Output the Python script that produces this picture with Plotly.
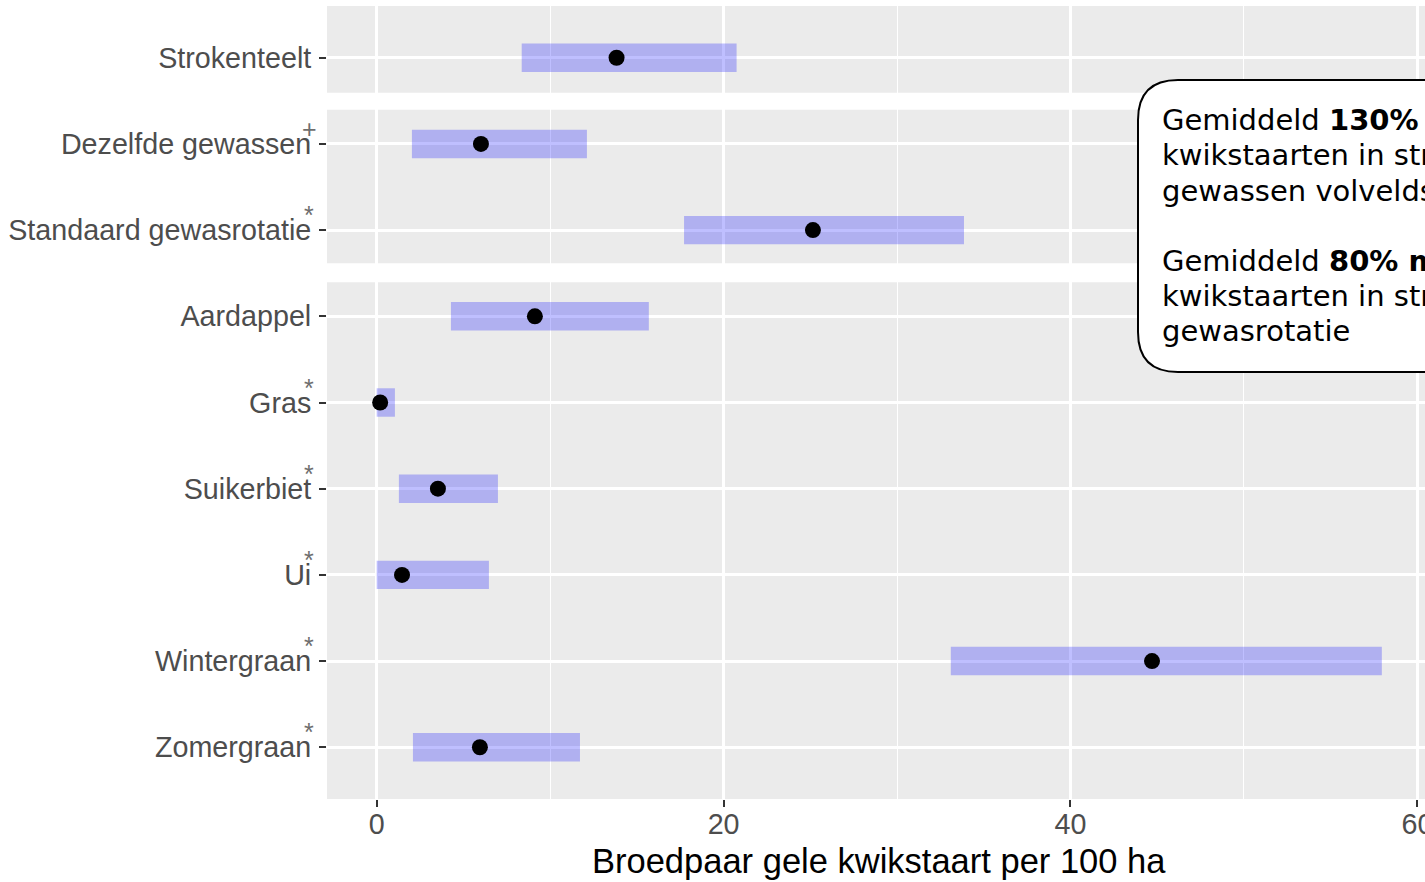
import plotly.graph_objects as go

# ---------------- data ----------------
categories = ["Strokenteelt", "Dezelfde gewassen", "Standaard gewasrotatie",
              "Aardappel", "Gras", "Suikerbiet", "Ui", "Wintergraan", "Zomergraan"]
mean_vals = [13.83, 6.01, 25.15, 9.12, 0.20, 3.53, 1.46, 44.70, 5.95]
lower_vals = [8.36, 2.03, 17.72, 4.28, 0.00, 1.28, 0.00, 33.10, 2.09]
upper_vals = [20.75, 12.12, 33.86, 15.69, 1.05, 6.99, 6.47, 57.95, 11.72]
sig_marks = ["", "+", "*", "", "*", "*", "*", "*", "*"]
x_ticks = [0, 20, 40, 60]
x_title = "Broedpaar gele kwikstaart per 100 ha"
box_lines = [
    "Gemiddeld <b>130% meer</b> gele",
    "kwikstaarten in strokenteelt dan in dezelfde",
    "gewassen volveldse teelt",
    "Gemiddeld <b>80% meer</b> gele",
    "kwikstaarten in strokenteelt dan in standaard",
    "gewasrotatie",
]

# ---------------- layout geometry ----------------
W, H = 1433, 882
ML, MR, MT, MB = 327, 0, 6, 83
X_RANGE = [-2.865, 60.9]
Y_RANGE = [-0.6, 8.6]


def px(xp):
    return (xp - ML) / (W - ML - MR)


def py(yp):
    return (H - MB - yp) / (H - MT - MB)


fig = go.Figure()
fig.add_trace(go.Bar(
    y=categories,
    x=[u - l for u, l in zip(upper_vals, lower_vals)],
    base=lower_vals,
    orientation="h",
    width=0.33,
    marker=dict(color="rgba(0,0,255,0.25)", line=dict(width=0)),
    hoverinfo="skip",
))
fig.add_trace(go.Scatter(
    y=categories, x=mean_vals, mode="markers",
    marker=dict(color="black", size=16),
    hoverinfo="skip",
))

tick_font = dict(family="Liberation Sans, Arial, sans-serif", size=28.7, color="#4D4D4D")

fig.update_layout(
    width=W, height=H,
    margin=dict(l=ML, r=MR, t=MT, b=MB, pad=0, autoexpand=False),
    paper_bgcolor="white",
    plot_bgcolor="#EBEBEB",
    showlegend=False,
    xaxis=dict(
        range=X_RANGE, tickmode="array", tickvals=x_ticks,
        showgrid=True, gridcolor="white", gridwidth=2.6,
        minor=dict(dtick=10, tick0=0, showgrid=True, gridcolor="white", gridwidth=1.3),
        ticks="outside", ticklen=7, tickwidth=2.2, tickcolor="#333333",
        tickfont=tick_font, zeroline=False, showline=False,
        ticklabeloverflow="allow", ticklabelstandoff=-7,
    ),
    yaxis=dict(
        type="category", categoryorder="array",
        categoryarray=list(reversed(categories)),
        range=Y_RANGE,
        showgrid=True, gridcolor="white", gridwidth=2.6,
        ticks="outside", ticklen=7, tickwidth=2.2, tickcolor="#333333",
        tickfont=tick_font, zeroline=False, showline=False,
        ticklabelstandoff=2,
    ),
)

shapes = []
# white separators between groups
for yc, half in [(7.494, 0.099), (5.506, 0.11)]:
    shapes.append(dict(type="rect", xref="paper", yref="y",
                       x0=0, x1=1.05, y0=yc - half, y1=yc + half,
                       fillcolor="white", line=dict(width=0), layer="above"))

# rounded annotation box
bx0, by0, by1, bx1, r = 1138, 80, 372, 1520, 40
path = (f"M {px(bx1)},{py(by0)} L {px(bx0 + r)},{py(by0)} "
        f"Q {px(bx0)},{py(by0)} {px(bx0)},{py(by0 + r)} "
        f"L {px(bx0)},{py(by1 - r)} "
        f"Q {px(bx0)},{py(by1)} {px(bx0 + r)},{py(by1)} "
        f"L {px(bx1)},{py(by1)} Z")
shapes.append(dict(type="path", xref="paper", yref="paper", path=path,
                   fillcolor="white", line=dict(color="black", width=2), layer="above"))
fig.update_layout(shapes=shapes)

annotations = []
line_y = [120, 155, 191, 261, 296, 331]
for txt, yl in zip(box_lines, line_y):
    annotations.append(dict(text=txt, xref="paper", yref="paper",
                            x=px(1160), y=py(yl), xanchor="left", yanchor="middle",
                            showarrow=False,
                            font=dict(family="DejaVu Sans, Verdana, sans-serif", size=29, color="black")))

for cat, s in zip(categories, sig_marks):
    if s:
        annotations.append(dict(text=s, xref="paper", yref="y", x=px(309), y=cat,
                                xanchor="center", yanchor="middle", yshift=15,
                                showarrow=False,
                                font=dict(family="Liberation Sans, Arial, sans-serif",
                                          size=25, color="#6E6E6E")))

annotations.append(dict(text=x_title, xref="x", yref="paper",
                        x=(min(lower_vals) + max(upper_vals)) / 2, y=py(861),
                        xanchor="center", yanchor="middle", showarrow=False,
                        font=dict(family="Liberation Sans, Arial, sans-serif", size=34.5, color="black")))
fig.update_layout(annotations=annotations)

fig.write_html("out.html",
               config={"displayModeBar": False},
               post_script="document.body.style.margin='0px';document.body.style.overflow='hidden';")
